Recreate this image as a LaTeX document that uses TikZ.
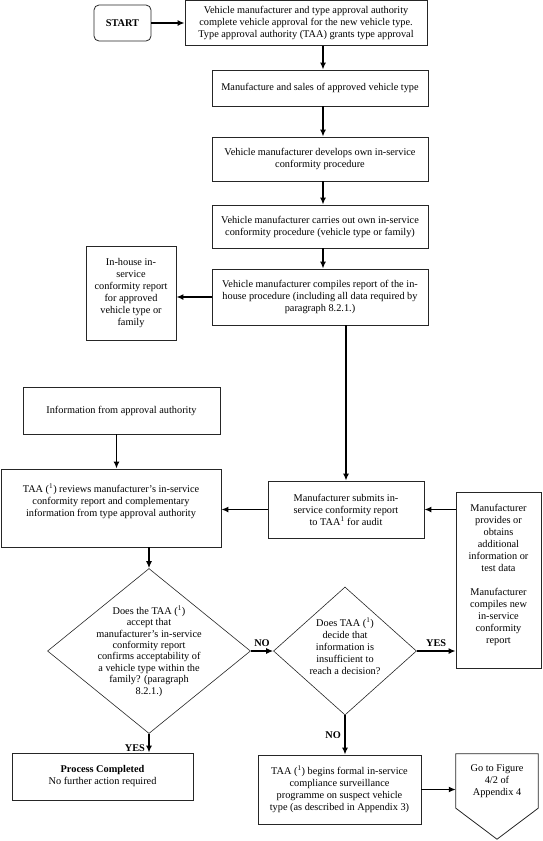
\documentclass[tikz,border=0pt]{standalone}
\usepackage{fontspec}
\setmainfont{Liberation Serif}
\usetikzlibrary{arrows.meta,positioning,shapes.geometric,calc}

\begin{document}
\begin{tikzpicture}[x=1pt, y=-1pt, >={Latex[length=7pt,width=6pt]},
    every node/.style={font=\fontsize{10.3}{12}\selectfont},
    box/.style={draw=black!85, line width=0.8pt, rectangle, align=center, inner sep=2pt},
    decision/.style={draw=black!85, line width=0.6pt, diamond, inner sep=0pt},
    flow/.style={draw, ->, line width=1.5pt},
    tag/.style={font=\fontsize{10.3}{12}\selectfont\bfseries}]
        \useasboundingbox (0,0) rectangle (542,841);

        % Flowchart nodes
        \node [box, rounded corners=5pt, minimum width=57, minimum height=36, font=\fontsize{10.3}{12}\selectfont\bfseries] (start) at (122.5,23) {START};
        \node [box, minimum width=242, minimum height=45] (approval) at (306,23) {Vehicle manufacturer and type approval authority\\complete vehicle approval for the new vehicle type.\\Type approval authority (TAA) grants type approval};
        \node [box, minimum width=216, minimum height=36] (sales) at (320,88) {Manufacture and sales of approved vehicle type};
        \node [box, minimum width=216, minimum height=44] (develop) at (320,159) {Vehicle manufacturer develops own in-service\\conformity procedure};
        \node [box, minimum width=216, minimum height=43] (carry) at (320,226.5) {Vehicle manufacturer carries out own in-service\\conformity procedure (vehicle type or family)};
        \node [box, minimum width=216, minimum height=56] (compile) at (320,297) {Vehicle manufacturer compiles report of the in-\\house procedure (including all data required by\\paragraph 8.2.1.)};
        \node [box, minimum width=90, minimum height=94] (inhouse) at (131,293) {In-house in-\\service\\conformity report\\for approved\\vehicle type or\\family};
        \node [box, minimum width=197, minimum height=47] (info) at (121.5,410.5) {Information from approval authority};
        \node [box, minimum width=220, minimum height=78] (review) at (111,508) {TAA (\textsuperscript{1}) reviews manufacturer's in-service\\conformity report and complementary\\information from type approval authority\\[4pt]\mbox{}};
        \node [box, minimum width=156, minimum height=57] (submit) at (346,509.5) {Manufacturer submits in-\\service conformity report\\to TAA\textsuperscript{1} for audit};
        \node [box, minimum width=85, minimum height=176] (extra) at (498.5,580) {Manufacturer\\provides or\\obtains\\additional\\information or\\test data\\[12pt]Manufacturer\\compiles new\\in-service\\conformity\\report\\ \mbox{}};
        \node [decision, minimum width=203, minimum height=165, label={[align=center, font=\fontsize{10.3}{11.4}\selectfont]center:{Does the TAA (\textsuperscript{1})\\accept that\\manufacturer's in-service\\conformity report\\confirms acceptability of\\a vehicle type within the\\family? (paragraph\\8.2.1.)}}] (decide1) at (149,651) {};
        \node [decision, minimum width=143, minimum height=128, label={[align=center, yshift=5pt]center:{Does TAA (\textsuperscript{1})\\decide that\\information is\\insufficient to\\reach a decision?}}] (decide2) at (345,651) {};
        \node [box, minimum width=181, minimum height=47] (done) at (102.5,776.5) {\textbf{Process Completed}\\No further action required};
        \node [box, minimum width=163, minimum height=69] (formal) at (339.5,789.5) {TAA (\textsuperscript{1}) begins formal in-service\\compliance surveillance\\programme on suspect vehicle\\type (as described in Appendix 3)};
        \node [align=center, minimum width=82, minimum height=54, inner sep=0pt] (goto) at (497,781) {Go to Figure\\4/2 of\\Appendix 4};
        \path [draw=black!85, line width=0.8pt] (goto.south west) -- (goto.north west) -- (goto.north east) -- (goto.south east) -- ($(goto.south)+(0,31)$) -- cycle;

        % Paths
        \coordinate (col) at (323,0);
        \path [flow] (start) -- (approval);
        \path [flow] (approval.south -| col) -- (sales.north -| col);
        \path [flow] (sales.south -| col) -- (develop.north -| col);
        \path [flow] (develop.south -| col) -- (carry.north -| col);
        \path [flow] (carry.south -| col) -- (compile.north -| col);
        \path [flow] (compile.west) -- (compile.west -| inhouse.east);
        \path [flow] (compile.south -| submit.north) -- (submit.north);
        \path [flow] ([xshift=-5pt]info.south) -- ([xshift=-5pt]info.south |- review.north);
        \path [flow] (submit.west) -- (submit.west -| review.east);
        \path [flow] (submit.east -| extra.west) -- (submit.east);
        \path [flow] (review.south -| decide1.north) -- (decide1.north);
        \path [flow] (decide1.east) -- node [tag, above] {NO} (decide2.west);
        \path [flow] (decide2.east) -- node [tag, above] {YES} (decide2.east -| extra.west);
        \path [flow] (decide2.south) -- node [tag, left] {NO} (decide2.south |- formal.north);
        \path [flow] (decide1.south) -- node [tag, left, near end] {YES} (decide1.south |- done.north);
        \path [flow] (formal.east) -- (formal.east -| goto.west);
\end{tikzpicture}
\end{document}
